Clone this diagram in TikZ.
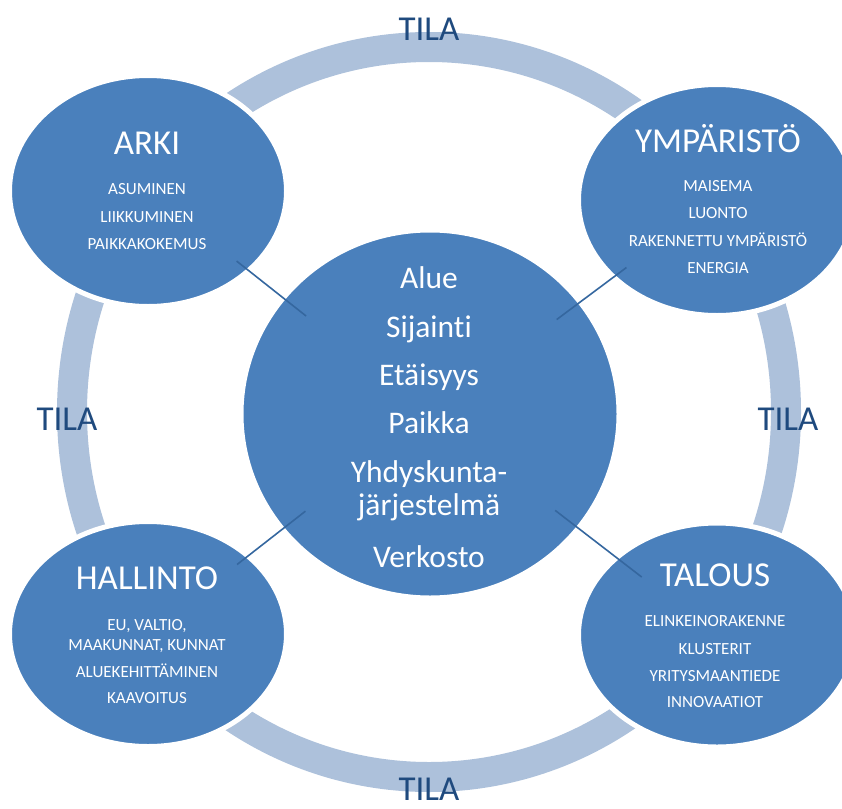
\documentclass[tikz,border=0pt]{standalone}
\usepackage{fontspec}
\setmainfont{Carlito}[Ligatures=NoCommon]
\usetikzlibrary{shapes.geometric}
\definecolor{fillblue}{HTML}{4A80BC}
\definecolor{ringblue}{HTML}{ADC1DB}
\definecolor{tilablue}{HTML}{1F4A7E}
\definecolor{linkblue}{HTML}{35679F}
\tikzset{
  sat/.style={ellipse, fill=fillblue, draw=white, line width=5pt, inner sep=0pt, outer sep=0pt,
    minimum width=277pt, minimum height=231pt},
  core/.style={ellipse, fill=fillblue, draw=white, line width=3pt, inner sep=0pt, outer sep=0pt,
    minimum width=376pt, minimum height=366pt},
  ttl/.style={anchor=base, text=white, inner sep=0pt, font=\fontsize{35}{40}\selectfont},
  itm/.style={anchor=base, text=white, inner sep=0pt, font=\fontsize{17}{20}\selectfont},
  mid/.style={anchor=base, text=white, inner sep=0pt, font=\fontsize{31.5}{36}\selectfont},
  tila/.style={anchor=base, text=tilablue, inner sep=0pt, text depth=0pt, font=\fontsize{35}{40}\selectfont},
  link/.style={draw=linkblue, line width=1.6pt, shorten <=113pt, shorten >=158pt},
}
\begin{document}
\begin{tikzpicture}[x=1pt,y=-1pt]
\useasboundingbox (0,0) rectangle (842,808);
% ring
\draw[ringblue, line width=30pt] (429,412) ellipse [x radius=357, y radius=365];
% shapes
\node[core] (core) at (430,414) {};
\node[sat] (arki) at (148,191) {};
\node[sat] (ymp) at (717,200) {};
\node[sat, minimum height=225pt] (hall) at (148,634) {};
\node[sat, minimum height=224pt] (tal) at (717,635) {};
% connectors
\draw[link] (arki.center) -- (core.center);
\draw[link] (ymp.center) -- (core.center);
\draw[link] (hall.center) -- (core.center);
\draw[link, shorten <=95pt] (tal.center) -- (core.center);
% TILA labels
\node[tila] (tilaT) at (429,41) {TILA};
\node[tila] (tilaB) at (429,800) {TILA};
\node[tila] (tilaL) at (67,430) {TILA};
\node[tila] (tilaR) at (788,430) {TILA};
% ARKI
\node[ttl] (arkiT) at (147,154) {ARKI};
\node[itm] (arki1) at (147,194) {ASUMINEN};
\node[itm] (arki2) at (147,222) {LIIKKUMINEN};
\node[itm] (arki3) at (147,249) {PAIKKAKOKEMUS};
% YMPARISTO
\node[ttl] (ympT) at (718,152) {YMPÄRISTÖ};
\node[itm] (ymp1) at (718,191) {MAISEMA};
\node[itm] (ymp2) at (718,218) {LUONTO};
\node[itm] (ymp3) at (718,246) {RAKENNETTU YMPÄRISTÖ};
\node[itm] (ymp4) at (718,273) {ENERGIA};
% HALLINTO
\node[ttl] (hallT) at (147,589) {HALLINTO};
\node[itm] (hall1) at (147,630) {EU, VALTIO,};
\node[itm] (hall2) at (147,650) {MAAKUNNAT, KUNNAT};
\node[itm] (hall3) at (147,677) {ALUEKEHITTÄMINEN};
\node[itm] (hall4) at (147,703) {KAAVOITUS};
% TALOUS
\node[ttl] (talT) at (715,586) {TALOUS};
\node[itm] (tal1) at (715,626) {ELINKEINORAKENNE};
\node[itm] (tal2) at (715,654) {KLUSTERIT};
\node[itm] (tal3) at (715,681) {YRITYSMAANTIEDE};
\node[itm] (tal4) at (715,707) {INNOVAATIOT};
% centre
\node[mid] (c1) at (429,288) {Alue};
\node[mid] (c2) at (429,337) {Sijainti};
\node[mid] (c3) at (429,385) {Etäisyys};
\node[mid] (c4) at (429,433) {Paikka};
\node[mid] (c5) at (429,482) {Yhdyskunta-};
\node[mid] (c6) at (429,515) {järjestelmä};
\node[mid] (c7) at (429,567) {Verkosto};
\end{tikzpicture}
\end{document}
